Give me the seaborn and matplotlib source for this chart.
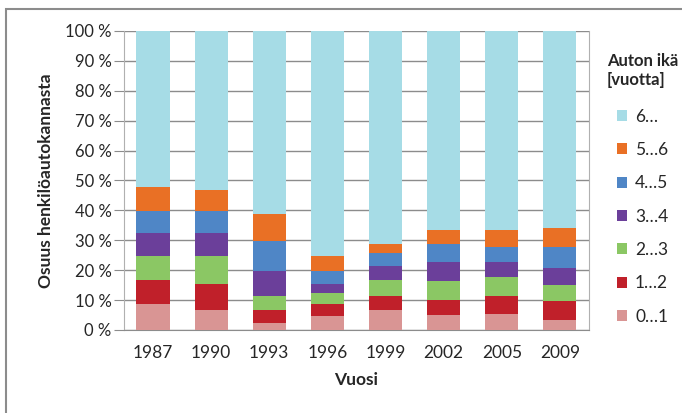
import pandas as pd
import seaborn as sns
import matplotlib.pyplot as plt
from matplotlib.patches import Rectangle
from matplotlib.ticker import FuncFormatter

# Osuudet (%) ikäluokittain, alimmasta ylimpään
vuodet = ["1987", "1990", "1993", "1996", "1999", "2002", "2005", "2009"]
ika_0_1 = [8.7, 6.7, 2.3, 4.7, 6.7, 5.0, 5.4, 3.3]
ika_1_2 = [8.0, 8.7, 4.4, 4.0, 4.7, 5.0, 6.0, 6.4]
ika_2_3 = [8.0, 9.3, 4.7, 3.7, 5.3, 6.4, 6.3, 5.3]
ika_3_4 = [7.7, 7.7, 8.3, 3.0, 4.7, 6.3, 5.0, 5.7]
ika_4_5 = [7.4, 7.4, 10.1, 4.3, 4.4, 6.1, 5.1, 7.1]
ika_5_6 = [8.0, 7.0, 9.0, 5.0, 3.0, 4.6, 5.6, 6.3]
ika_6 = [52.2, 53.2, 61.2, 75.3, 71.2, 66.6, 66.6, 65.9]

luokat = ["0…1", "1…2", "2…3", "3…4", "4…5", "5…6", "6…"]
varit = ["#D99594", "#C0202A", "#8BC764", "#6B3F9A", "#4F86C6", "#E97025", "#A6DCE6"]

df = pd.DataFrame(
    {"Vuosi": vuodet, "0…1": ika_0_1, "1…2": ika_1_2, "2…3": ika_2_3,
     "3…4": ika_3_4, "4…5": ika_4_5, "5…6": ika_5_6, "6…": ika_6}
)

sns.set_style("white")
plt.rcParams["font.family"] = ["Lato", "DejaVu Sans"]

fig = plt.figure(figsize=(6.82, 4.13), dpi=100)
ax = fig.add_axes([0.1818, 0.201, 0.6818, 0.724])

# kumulatiiviset summat, piirretään ylimmästä alaspäin
kum = df[luokat].cumsum(axis=1)
kum = kum.div(kum["6…"], axis=0) * 100
for luokka, vari in zip(reversed(luokat), reversed(varit)):
    sns.barplot(x=df["Vuosi"], y=kum[luokka], color=vari, width=0.57,
                label=luokka, ax=ax, saturation=1, linewidth=0, zorder=3)

ax.set_ylim(0, 100)
ax.set_xlim(-0.5, 7.5)
ax.set_yticks(range(0, 101, 10))
ax.yaxis.set_major_formatter(FuncFormatter(lambda v, p: f"{int(v)} %"))
ax.yaxis.grid(True, color="#8c8c8c", linewidth=1, zorder=0)
ax.set_axisbelow(True)
for s in ["left", "right", "bottom", "top"]:
    ax.spines[s].set_color("#b0b0b0")
ax.spines["bottom"].set_color("#8c8c8c")
ax.spines["top"].set_visible(False)
ax.tick_params(axis="y", length=7, color="#8c8c8c", labelsize=12, pad=2,
               direction="out", left=True)
ax.tick_params(axis="x", length=0, labelsize=12.5, pad=11)
ax.set_xlabel("Vuosi", fontsize=12.5, fontweight="bold", labelpad=8)
ax.set_ylabel("Osuus henkilöautokannasta", fontsize=12.5, fontweight="bold", labelpad=8)

leg = ax.legend(title="Auton ikä\n[vuotta]", loc="upper left",
                bbox_to_anchor=(1.02, 0.955), frameon=False, fontsize=12.5,
                title_fontproperties={"weight": "bold", "size": 12},
                handlelength=0.6, handleheight=0.6, labelspacing=1.0,
                handletextpad=0.45, borderpad=0)
leg._legend_box.align = "center"
leg._legend_box.sep = 15

fig.patches.append(Rectangle((6 / 682, -0.01), 1.0, 1 - 9 / 413 + 0.01,
                             transform=fig.transFigure, fill=False,
                             edgecolor="#8c8c8c", linewidth=1.5))

fig.savefig("out.png", dpi=100)
